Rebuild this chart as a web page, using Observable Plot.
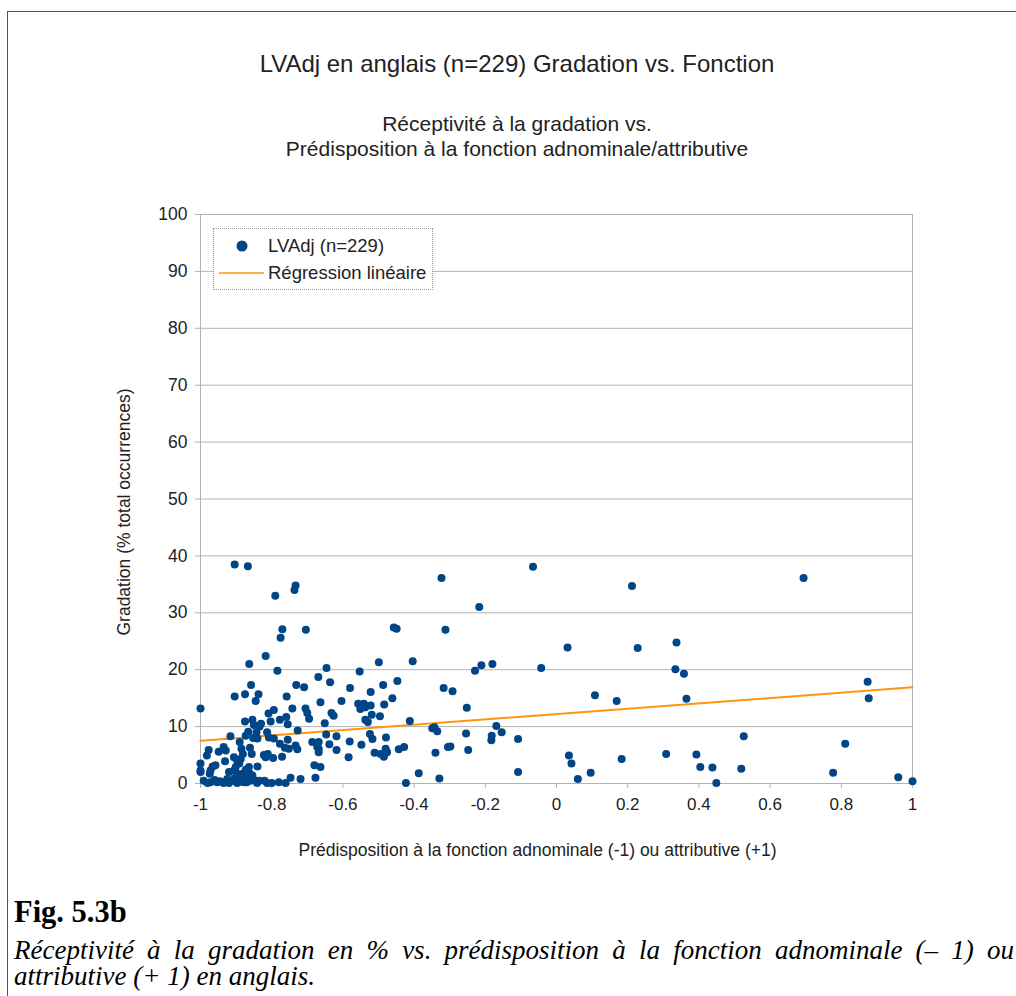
<!DOCTYPE html>
<html>
<head>
<meta charset="utf-8">
<script src="https://cdn.jsdelivr.net/npm/d3@7"></script>
<script src="https://cdn.jsdelivr.net/npm/@observablehq/plot@0.6"></script>
<style>
  html, body { margin: 0; padding: 0; background: #fff; }
  #page { position: relative; width: 1016px; height: 996px; overflow: hidden; background: #fff; font-family: "Liberation Sans", Arial, sans-serif; }
  #border { position: absolute; left: 7px; top: 11px; width: 1200px; height: 1200px; border-top: 1px solid #555; border-left: 1px solid #555; }
  .center { position: absolute; left: 17px; width: 1000px; text-align: center; color: #222; }
  #title { top: 49px; font-size: 24px; line-height: 30px; }
  #subtitle { top: 111px; font-size: 21px; line-height: 25px; }
  #chart { position: absolute; left: 0; top: 200px; }
  #legend { position: absolute; left: 213px; top: 228px; width: 218px; height: 60px; background: #fff; border: 1px dotted #9a9a9a; font-size: 18.5px; color: #222; }
  .li { position: absolute; left: 0; height: 22px; width: 218px; }
  .li span { position: absolute; left: 54px; top: 0; line-height: 22px; white-space: nowrap; }
  #fig { position: absolute; left: 14px; top: 895px; font-family: "Liberation Serif", "Times New Roman", serif; font-weight: bold; font-size: 30.5px; line-height: 34px; color: #000; }
  #cap { position: absolute; left: 14px; top: 937px; width: 1000px; font-family: "Liberation Serif", "Times New Roman", serif; font-style: italic; font-size: 27px; line-height: 26px; text-align: justify; color: #000; }
</style>
</head>
<body>
<div id="page">
  <div id="border"></div>
  <div id="title" class="center">LVAdj en anglais (n=229) Gradation vs. Fonction</div>
  <div id="subtitle" class="center">Réceptivité à la gradation vs.<br>Prédisposition à la fonction adnominale/attributive</div>
  <div id="chart"></div>
  <div id="legend">
    <div class="li" style="top:6px">
      <svg width="54" height="22" style="position:absolute;left:0;top:0"><circle cx="28" cy="11" r="5.5" fill="#004586"></circle></svg>
      <span>LVAdj (n=229)</span>
    </div>
    <div class="li" style="top:33px">
      <svg width="54" height="22" style="position:absolute;left:0;top:0"><line x1="5" x2="50" y1="11" y2="11" stroke="#ff950e" stroke-width="1.5"></line></svg>
      <span>Régression linéaire</span>
    </div>
  </div>
  <div id="fig">Fig. 5.3b</div>
  <div id="cap">Réceptivité à la gradation en % vs. prédisposition à la fonction adnominale (– 1) ou attributive (+ 1) en anglais.</div>
</div>
<script>
// Prédisposition (x) values
const fonction = [
  -0.904,-0.867,-0.790,-0.733,-0.736,-0.770,-0.775,-0.704,-0.817,-0.863,
  -0.784,-0.669,-0.858,-0.731,-0.709,-0.904,-0.875,-0.837,-0.845,-0.758,
  -1.000,-0.742,-0.705,-0.700,-0.695,-0.794,-0.809,-0.803,-0.777,-0.759,
  -0.755,-0.875,-0.854,-0.850,-0.834,-0.843,-0.866,-0.813,-0.727,-0.916,
  -0.852,-0.890,-0.885,-0.861,-0.881,-0.887,-0.906,-0.897,-0.891,-0.977,
  -0.982,-0.949,-0.935,-0.777,-0.755,-0.763,-0.752,-0.822,-0.811,-0.796,
  -0.771,-0.728,-0.733,-0.931,-1.000,-1.000,-0.966,-0.972,-0.974,-0.864,
  -0.861,-0.840,-0.906,-0.897,-0.888,-0.878,-0.869,-0.991,-0.972,-0.953,
  -0.935,-0.925,-0.911,-0.897,-0.878,-0.860,-0.841,-0.813,-0.761,-0.747,
  -0.719,-0.677,-0.668,-0.668,-0.663,-0.663,
  -0.323,-0.457,-0.449,-0.312,-0.499,-0.404,-0.646,-0.553,-0.636,-0.487,
  -0.447,-0.580,-0.317,-0.292,-0.522,-0.604,-0.461,-0.557,-0.541,-0.551,
  -0.537,-0.522,-0.484,-0.632,-0.626,-0.519,-0.496,-0.651,-0.537,-0.530,
  -0.412,-0.349,-0.335,-0.343,-0.647,-0.618,-0.524,-0.517,-0.479,-0.686,
  -0.672,-0.668,-0.638,-0.618,-0.581,-0.548,-0.511,-0.494,-0.485,-0.476,
  -0.480,-0.443,-0.428,-0.584,-0.340,-0.305,-0.680,-0.387,-0.423,-0.329,
  -0.066,-0.217,0.212,0.031,0.228,0.337,-0.229,-0.211,-0.180,-0.043,
  0.334,0.358,-0.252,0.108,0.169,0.365,-0.169,-0.154,-0.182,-0.183,
  -0.254,-0.298,-0.248,-0.108,-0.108,0.035,0.042,0.060,0.096,0.183,
  0.308,0.393,0.404,
  0.694,0.874,0.877,0.526,0.811,0.438,0.519,0.449,0.777,0.960,1.000,
  -0.830,-0.873,-0.840,-0.808,-0.794,-0.929,-0.856,-0.817,-1.000,-0.958,
  -0.920,-0.901,-0.882,-0.873,-0.854,-0.835,
  -0.980,-0.960,-0.945,-0.920,-0.905,-0.890,-0.870,-0.850,-0.820,-0.800,-0.780
];
// Gradation (% total occurrences) values, same order
const gradation = [
  38.5,38.2,33.0,34.8,34.0,27.1,25.6,27.0,22.4,21.0,
  19.8,18.7,17.3,17.3,16.9,15.3,15.7,15.7,14.5,15.3,
  13.2,13.2,13.2,12.4,11.4,12.9,12.3,10.9,11.2,11.7,
  10.4,10.9,11.2,10.3,10.0,9.0,9.1,9.0,9.3,8.3,
  8.0,7.3,6.1,6.3,5.2,4.3,4.6,4.0,3.5,5.9,
  4.9,5.6,6.4,7.0,7.7,6.3,6.1,5.0,5.2,4.5,
  4.7,6.0,6.7,3.9,3.5,2.3,3.0,2.3,1.7,2.9,
  1.7,3.0,2.3,1.7,1.1,1.0,0.8,0.5,0.2,0.2,
  0.1,0.8,0.5,0.1,0.2,0.5,0.1,0.1,0.1,1.0,
  0.8,1.0,7.3,6.1,2.9,14.3,
  36.1,27.4,27.2,27.0,21.3,21.5,20.3,19.7,17.8,17.3,
  18.0,16.8,16.8,16.2,16.1,14.5,15.0,14.0,14.0,13.1,
  13.4,13.7,13.9,12.4,11.9,12.1,11.8,10.6,11.2,10.8,
  11.0,9.7,9.2,9.9,8.6,8.3,8.7,7.8,8.1,7.3,
  6.4,5.5,6.9,5.9,7.4,6.8,5.4,5.2,4.7,5.5,
  6.1,6.0,6.4,4.6,5.4,6.4,3.2,1.8,0.1,0.9,
  38.1,31.0,34.7,23.9,23.8,24.8,19.8,20.8,21.0,20.3,
  20.1,19.3,13.3,15.5,14.5,14.9,10.1,9.0,8.4,7.6,
  8.8,6.5,5.9,7.8,2.0,4.9,3.5,0.8,1.9,4.3,
  5.2,5.1,2.9,
  36.1,17.9,15.0,8.3,7.0,2.8,2.6,0.1,1.9,1.1,0.4,
  10.5,8.4,7.9,8.1,7.9,5.8,5.2,4.6,2.0,3.2,
  2.0,2.9,1.7,2.4,1.4,0.5,
  0.1,0.6,0.4,0.1,0.9,0.3,0.2,0.6,0.5,0.1,0.2
];
// Linear regression line endpoints
const regX = [-1, 1];
const regY = [7.5, 16.9];
const xTicks = [-1, -0.8, -0.6, -0.4, -0.2, 0, 0.2, 0.4, 0.6, 0.8, 1];
const yTicks = [0, 10, 20, 30, 40, 50, 60, 70, 80, 90, 100];
const xTitle = "Prédisposition à la fonction adnominale (-1) ou attributive (+1)";
const yTitle = "Gradation (% total occurrences)";

const points = fonction.map((x, i) => ({x, y: gradation[i]}));
const reg = regX.map((x, i) => ({x, y: regY[i]}));

const chart = Plot.plot({
  width: 1016,
  height: 663,
  marginLeft: 200,
  marginRight: 104,
  marginTop: 14,
  marginBottom: 80,
  style: {fontFamily: '"Liberation Sans", Arial, sans-serif', fontSize: "17px", color: "#222", background: "transparent", overflow: "visible"},
  x: {domain: [-1, 1]},
  y: {domain: [0, 100]},
  marks: [
    Plot.gridY(yTicks, {stroke: "#b3b3b3", strokeOpacity: 1}),
    Plot.frame({stroke: "#b3b3b3"}),
    Plot.axisX(xTicks, {tickSize: 5, tickPadding: 9, stroke: "#b3b3b3", tickFormat: d => String(d), label: null, fontSize: 17}),
    Plot.axisY(yTicks, {tickSize: 5, tickPadding: 8, stroke: "#b3b3b3", tickFormat: d => String(d), label: null, fontSize: 17.5}),
    Plot.text([xTitle], {frameAnchor: "bottom", text: d => d, dx: -19, dy: 67, lineAnchor: "middle", textAnchor: "middle", fontSize: 17.5, fill: "#222"}),
    Plot.text([yTitle], {frameAnchor: "left", text: d => d, rotate: -90, dx: -76, dy: 13, lineAnchor: "middle", textAnchor: "middle", fontSize: 17.5, fill: "#222"}),
    Plot.line(reg, {x: "x", y: "y", stroke: "#ff950e", strokeWidth: 2}),
    Plot.dot(points, {x: "x", y: "y", r: 4, fill: "#004586", stroke: "none"})
  ]
});
document.getElementById("chart").appendChild(chart);
</script>
</body>
</html>
